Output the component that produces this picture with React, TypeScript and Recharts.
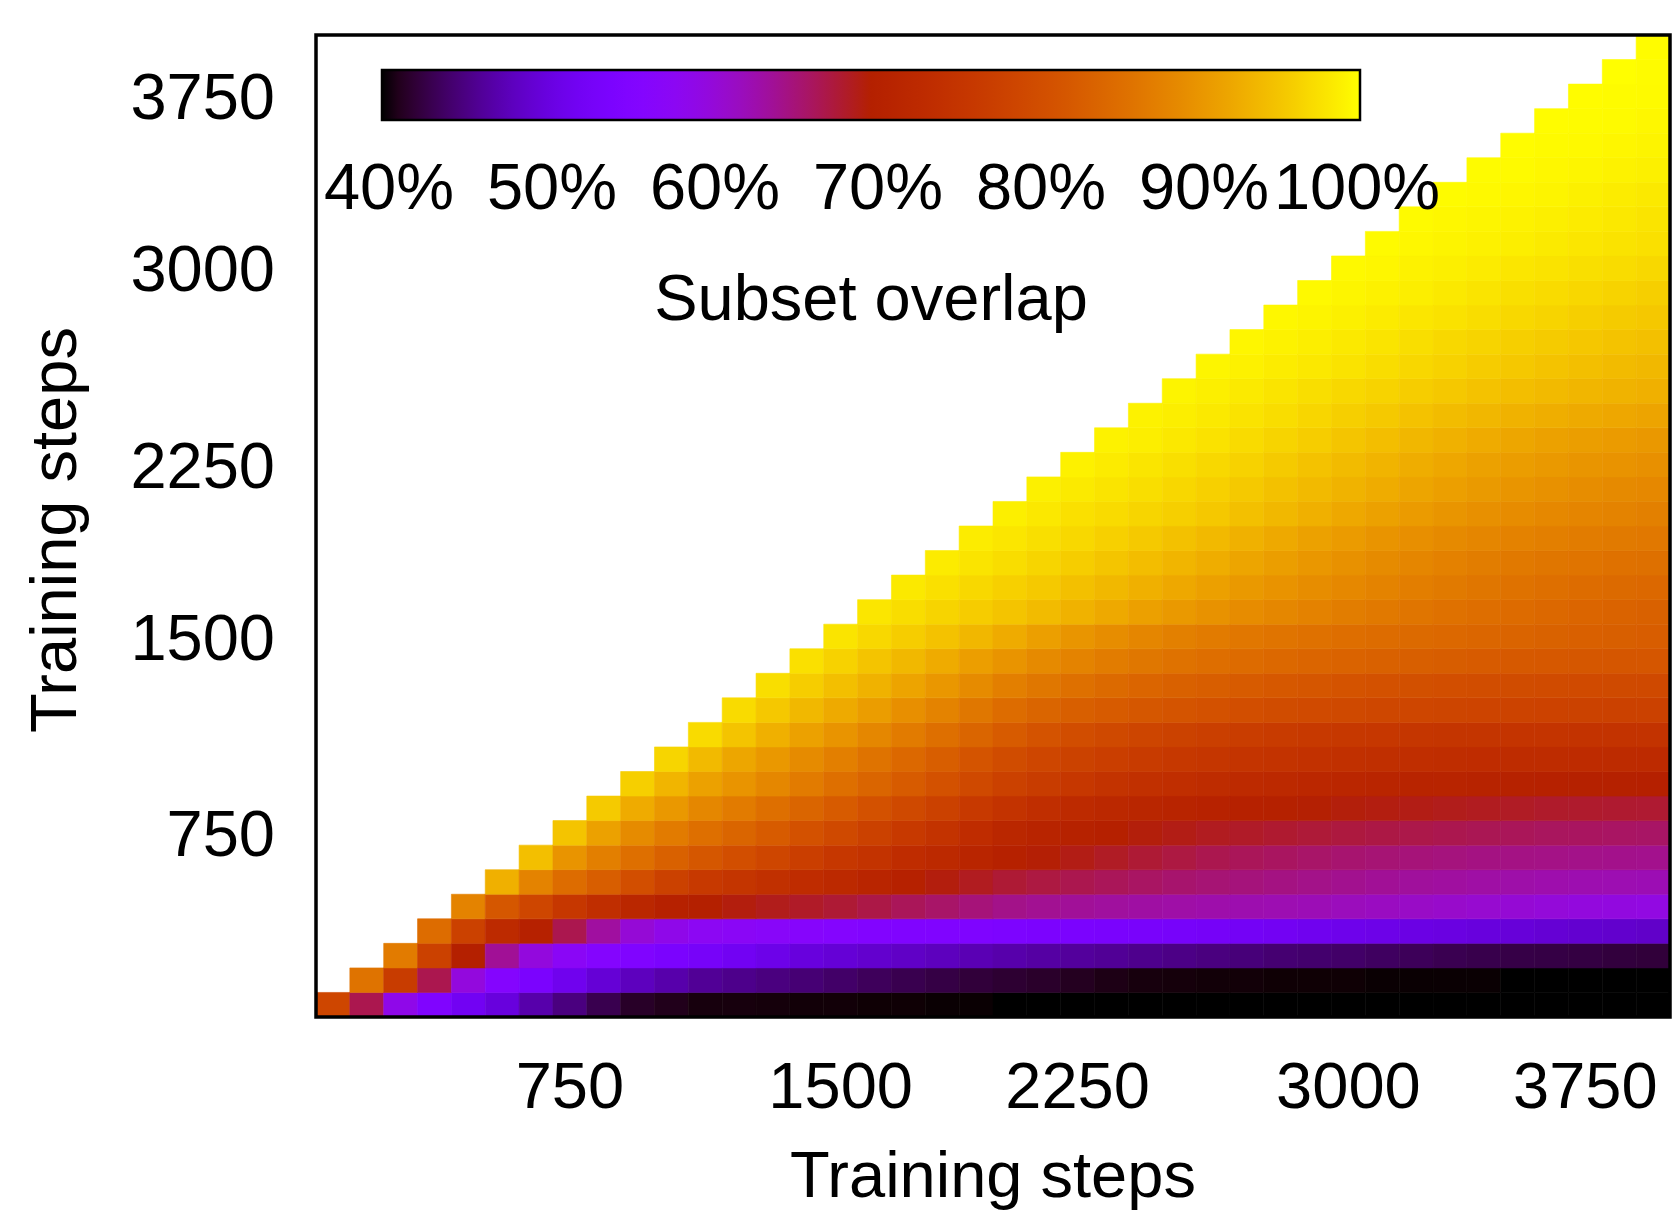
import { ComposedChart, ReferenceArea, XAxis, YAxis } from "recharts";

const FONT = '"Liberation Sans", Arial, Helvetica, sans-serif';
const N = 40; // checkpoints per axis

// axis ticks sit on checkpoint index centres
const tickPos = [7.5, 15.5, 22.5, 30.5, 37.5];
const tickLabels = ["750", "1500", "2250", "3000", "3750"];
const cbarTicks = [40, 50, 60, 70, 80, 90, 100];

// overlap (%) per row; row r (from the bottom) starts at column r
const overlapRows: number[][] = [
  [79, 67, 59, 55, 52, 50, 47, 45, 43, 41.5, 41, 40.5, 40.5, 40.4, 40.3, 40.3, 40.2, 40.2, 40.1, 40.1,
    40, 40, 40, 40, 40, 40, 40, 40, 40, 40, 40, 40, 40, 40, 40, 40, 40, 40, 40, 40],
  [86, 77, 67, 60, 56, 54, 51.5, 49.5, 48, 47, 46, 45.5, 45, 44.5, 44, 43.5, 43, 42.6, 42.2, 41.9,
    41.6, 41.2, 40.8, 40.5, 40.4, 40.3, 40.3, 40.2, 40.2, 40.2, 40.1, 40.1, 40.1, 40.1, 40, 40, 40, 40, 40],
  [87, 78, 70, 64, 60, 57.5, 56, 55, 54, 53, 52, 51, 50, 49.5, 49, 48.5, 48, 47.5, 47,
    46.6, 46.3, 46, 45.6, 45.3, 45, 44.7, 44.4, 44.2, 44, 43.7, 43.4, 43.1, 42.9, 42.7, 42.6, 42.5, 42.3, 42.2],
  [85, 78, 73, 70.5, 67, 63.5, 60.5, 59, 58, 57.5, 57, 56.5, 56, 55.5, 55.2, 55, 54.8, 54.5,
    54.2, 54, 53.7, 53.4, 53.1, 52.8, 52.5, 52.1, 51.6, 51.2, 50.9, 50.6, 50.3, 50, 49.7, 49.4, 49.1, 48.9, 48.7],
  [88, 82, 79, 76, 74, 72, 70.5, 70, 69.5, 69, 68.5, 68, 67.3, 66.6, 66, 65.3, 64.6,
    64.2, 63.9, 63.6, 63.4, 63.2, 63, 62.8, 62.6, 62.4, 62.1, 61.8, 61.5, 61.2, 60.9, 60.6, 60.3, 60, 59.8, 59.6],
  [93, 88, 85, 83, 80.5, 78, 76.5, 75.5, 74.5, 73.5, 72.5, 71.5, 70.5, 69.5, 68.8, 68,
    67.5, 67, 66.6, 66.2, 65.8, 65.5, 65.2, 64.9, 64.6, 64.3, 64, 63.7, 63.5, 63.3, 63.1, 62.9, 62.7, 62.6, 62.5],
  [94.5, 90, 87.5, 85.5, 83.5, 82, 80.5, 79, 77.5, 76, 75, 73.5, 72.5, 71.5, 70.5,
    69.8, 69.2, 68.6, 68, 67.5, 67, 66.6, 66.3, 66, 65.7, 65.5, 65.3, 65.1, 64.9, 64.8, 64.7, 64.6, 64.5, 64.4],
  [95, 91.5, 89, 87, 85.5, 84, 82.5, 81, 79.5, 78, 76.5, 75, 73.5, 72,
    71.3, 70.7, 70.1, 69.6, 69.2, 68.8, 68.5, 68.2, 67.9, 67.6, 67.4, 67.2, 67, 66.8, 66.6, 66.4, 66.3, 66.2, 66.1],
  [95.5, 92.5, 90.5, 88.5, 87, 85.5, 84, 82.5, 81, 79.5, 78, 76.5, 75,
    74, 73, 72.3, 71.7, 71.2, 70.8, 70.5, 70.2, 69.9, 69.6, 69.4, 69.2, 69, 68.8, 68.6, 68.4, 68.3, 68.2, 68.1],
  [96, 93.5, 91.5, 90, 88.5, 87, 85.5, 84, 82.5, 81, 79.5, 78,
    77, 76, 75.2, 74.5, 73.9, 73.4, 73, 72.6, 72.2, 71.9, 71.6, 71.3, 71.1, 70.9, 70.7, 70.5, 70.3, 70.2, 70.1],
  [96.5, 94, 92, 90.5, 89, 87.5, 86, 84.5, 83, 81.5, 80,
    79, 78.2, 77.5, 76.9, 76.3, 75.8, 75.4, 75, 74.7, 74.4, 74.1, 73.9, 73.7, 73.5, 73.4, 73.3, 73.2, 73.1, 73],
  [97, 95, 93, 91.5, 90, 88.5, 87, 85.5, 84, 82.5,
    81.3, 80.3, 79.5, 78.8, 78.2, 77.7, 77.2, 76.8, 76.5, 76.2, 76, 75.8, 75.6, 75.5, 75.4, 75.3, 75.2, 75.1, 75],
  [97, 95.3, 93.8, 92.4, 91, 89.5, 88, 86.5, 85,
    84, 83.2, 82.5, 81.9, 81.4, 80.9, 80.5, 80.1, 79.8, 79.5, 79.2, 79, 78.8, 78.6, 78.4, 78.3, 78.2, 78.1, 78],
  [97.3, 95.8, 94.5, 93.2, 91.8, 90.4, 89, 87.6,
    86.5, 85.6, 84.8, 84.1, 83.5, 83, 82.5, 82.1, 81.7, 81.3, 81, 80.7, 80.5, 80.3, 80.1, 79.9, 79.8, 79.7, 79.6],
  [97.5, 96.2, 95, 93.8, 92.5, 91.2, 90,
    88.9, 88, 87.2, 86.5, 85.9, 85.4, 84.9, 84.5, 84.1, 83.7, 83.4, 83.1, 82.8, 82.5, 82.3, 82.1, 81.9, 81.8, 81.7],
  [97.8, 96.8, 95.8, 94.8, 93.7, 92.5,
    91.3, 90.2, 89.2, 88.4, 87.7, 87.1, 86.6, 86.2, 85.8, 85.4, 85.1, 84.8, 84.5, 84.2, 83.9, 83.6, 83.3, 83.1, 82.9],
  [98, 97.2, 96.4, 95.7, 95, 94.1, 93.2, 92.3, 91.4, 90.6, 89.8, 89.1, 88.5, 87.9, 87.3,
    86.8, 86.3, 85.8, 85.3, 84.9, 84.5, 84.1, 83.8, 83.5],
  [98.2, 97.5, 96.8, 96.1, 95.4, 94.6, 93.8, 93, 92.2, 91.4, 90.6, 89.9, 89.2, 88.6,
    88, 87.4, 86.9, 86.4, 85.9, 85.5, 85.1, 84.8, 84.5],
  [98.4, 97.8, 97.2, 96.5, 95.8, 95.1, 94.3, 93.5, 92.7, 91.9, 91.1, 90.4, 89.7,
    89, 88.4, 87.8, 87.3, 86.8, 86.4, 86.1, 85.8, 85.6],
  [98.5, 98, 97.4, 96.8, 96.1, 95.4, 94.7, 93.9, 93.1, 92.3, 91.5, 90.8,
    90.1, 89.5, 88.9, 88.4, 87.9, 87.5, 87.2, 86.9, 86.7],
  [98.7, 98.1, 97.5, 97, 96.5, 96, 95.3, 94.6, 93.8, 93, 92.2,
    91.5, 90.8, 90.2, 89.6, 89.1, 88.7, 88.3, 88, 87.7],
  [98.8, 98.3, 97.8, 97.3, 96.7, 96.1, 95.4, 94.7, 94, 93.3,
    92.6, 91.9, 91.3, 90.7, 90.2, 89.7, 89.3, 88.9, 88.6],
  [98.9, 98.4, 97.9, 97.4, 96.8, 96.2, 95.5, 94.8, 94.1,
    93.4, 92.7, 92.1, 91.5, 91, 90.6, 90.2, 89.9, 89.6],
  [99, 98.6, 98.1, 97.6, 97, 96.4, 95.8, 95.1, 94.4, 93.7, 93.1, 92.5, 92, 91.5, 91.1, 90.8, 90.5],
  [99, 98.6, 98.2, 97.7, 97.2, 96.6, 96, 95.4, 94.8, 94.2, 93.7, 93.2, 92.8, 92.4, 92.1, 91.8],
  [99.1, 98.7, 98.3, 97.8, 97.3, 96.8, 96.3, 95.8, 95.3, 94.8, 94.4, 94, 93.6, 93.3, 93],
  [99.2, 98.9, 98.5, 98.1, 97.7, 97.2, 96.7, 96.2, 95.7, 95.3, 94.9, 94.5, 94.1, 93.8],
  [99.3, 99, 98.6, 98.2, 97.8, 97.3, 96.8, 96.4, 96, 95.6, 95.2, 94.9, 94.6],
  [99.4, 99.1, 98.8, 98.4, 98, 97.6, 97.2, 96.8, 96.4, 96, 95.6, 95.3],
  [99.5, 99.2, 98.9, 98.6, 98.2, 97.8, 97.4, 97, 96.7, 96.3, 96],
  [99.5, 99.3, 99, 98.7, 98.4, 98, 97.7, 97.4, 97.1, 96.8],
  [99.6, 99.4, 99.1, 98.9, 98.6, 98.3, 98, 97.7, 97.5],
  [99.6, 99.4, 99.2, 99, 98.7, 98.4, 98.1, 97.8],
  [99.7, 99.5, 99.3, 99.1, 98.8, 98.5, 98.2],
  [99.7, 99.6, 99.4, 99.2, 99, 98.8],
  [99.8, 99.6, 99.5, 99.3, 99.1],
  [99.8, 99.7, 99.6, 99.4],
  [99.8, 99.7, 99.6],
  [99.9, 99.7],
  [99.8],
];

// gnuplot default pm3d palette (rgbformulae 7,5,15) over 40%..100%
function palette(v: number) {
  const t = Math.min(1, Math.max(0, (v - 40) / 60));
  const r = Math.sqrt(t);
  const g = t * t * t;
  const b = Math.max(0, Math.sin(2 * Math.PI * t));
  return `rgb(${Math.round(r * 255)},${Math.round(g * 255)},${Math.round(b * 255)})`;
}

const cells = overlapRows.flatMap((row, r) =>
  row.map((v, k) => ({ col: r + k, row: r, v, color: palette(v) })),
);

const tickStyle = { fontSize: 65, fill: "#000", fontFamily: FONT };

function XTitle(props: any) {
  const vb = props.viewBox;
  return (
    <text x={vb.x + vb.width / 2} y={vb.y + 180} textAnchor="middle" fontSize={65} fontFamily={FONT} fill="#000">
      Training steps
    </text>
  );
}

function YTitle(props: any) {
  const vb = props.viewBox;
  const x = vb.x + 76;
  const y = vb.y + vb.height / 2 + 4;
  return (
    <text x={x} y={y} transform={`rotate(-90, ${x}, ${y})`} textAnchor="middle" fontSize={65} fontFamily={FONT} fill="#000">
      Training steps
    </text>
  );
}

// colour key drawn over the empty upper-left part of the plot
function ColorBar() {
  const x0 = 382;
  const w = 978;
  const stops = Array.from({ length: 61 }, (_, i) => i);
  return (
    <svg width={1672} height={1212} style={{ position: "absolute", left: 0, top: 0, pointerEvents: "none" }}>
      <defs>
        <linearGradient id="cbar" x1="0" x2="1" y1="0" y2="0">
          {stops.map((i) => (
            <stop key={i} offset={`${(i / 60) * 100}%`} stopColor={palette(40 + i)} />
          ))}
        </linearGradient>
      </defs>
      <rect x={x0} y={70} width={w} height={50} fill="url(#cbar)" stroke="#000" strokeWidth={2.5} />
      {cbarTicks.map((t, i) => (
        <text
          key={t}
          x={x0 + ((t - 40) / 60) * w + (i === cbarTicks.length - 1 ? -3 : 7)}
          y={209}
          textAnchor="middle"
          fontSize={65}
          fontFamily={FONT}
          fill="#000"
        >
          {t}%
        </text>
      ))}
      <text x={x0 + w / 2} y={320} textAnchor="middle" fontSize={65} fontFamily={FONT} fill="#000">
        Subset overlap
      </text>
    </svg>
  );
}

export default function App() {
  return (
    <div style={{ position: "absolute", left: 0, top: 0, width: 1672, height: 1212, background: "#fff" }}>
      <ComposedChart width={1672} height={1212} data={cells} margin={{ top: 35, right: 2, bottom: 0, left: 0 }}>
        <XAxis
          type="number"
          dataKey="col"
          domain={[0, N]}
          allowDataOverflow
          ticks={tickPos}
          interval={0}
          tickFormatter={(v) => tickLabels[tickPos.indexOf(v)]}
          tick={tickStyle}
          tickLine={false}
          tickSize={0}
          tickMargin={45}
          axisLine={false}
          height={195}
          label={{ content: XTitle }}
        />
        <YAxis
          type="number"
          dataKey="row"
          domain={[0, N]}
          allowDataOverflow
          ticks={tickPos}
          interval={0}
          tickFormatter={(v) => tickLabels[tickPos.indexOf(v)]}
          tick={tickStyle}
          tickLine={false}
          tickSize={0}
          tickMargin={41}
          axisLine={false}
          width={316}
          label={{ content: YTitle }}
        />
        {cells.map((c) => (
          <ReferenceArea
            key={`${c.col}-${c.row}`}
            x1={c.col}
            x2={c.col + 1}
            y1={c.row}
            y2={c.row + 1}
            fill={c.color}
            fillOpacity={1}
            stroke={c.color}
            strokeWidth={0.6}
          />
        ))}
        <ReferenceArea x1={0} x2={N} y1={0} y2={N} fill="none" stroke="#000" strokeWidth={3.5} />
      </ComposedChart>
      <ColorBar />
    </div>
  );
}
